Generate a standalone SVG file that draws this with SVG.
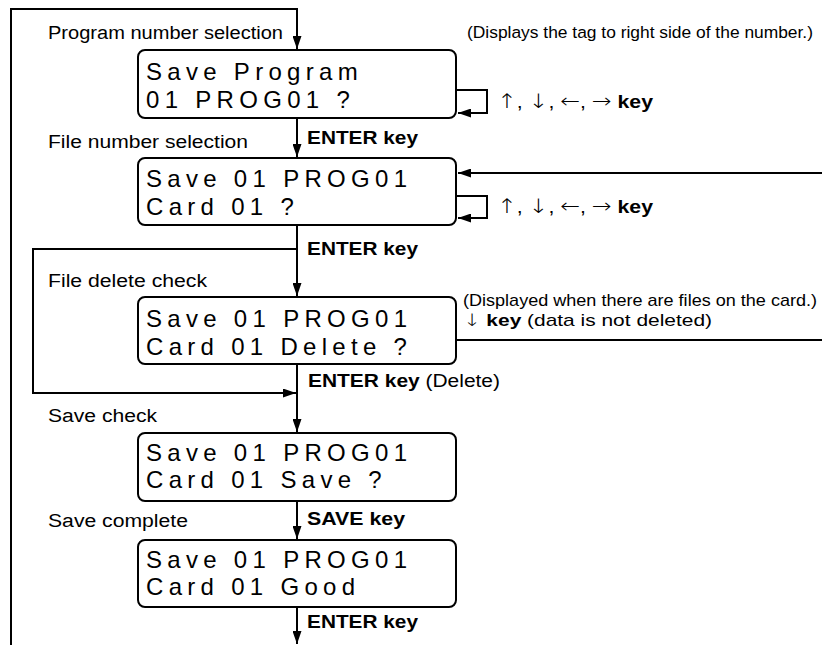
<svg xmlns="http://www.w3.org/2000/svg" width="822" height="645" viewBox="0 0 822 645">
<style>
.bg{fill:#fff}
.box{fill:#fff;stroke:#000;stroke-width:2}
.lcd{font-family:"Liberation Sans",Arial,sans-serif;font-size:24px;letter-spacing:5.3px;fill:#000}
.lbl{font-family:"Liberation Sans",Arial,sans-serif;font-size:18px;fill:#000}
.sm{font-size:17px}
.xs{font-size:17.4px}
.b{font-weight:bold}
.ar{font-family:"DejaVu Sans",sans-serif;font-size:20px;font-weight:200}
.ar2{font-family:"DejaVu Sans",sans-serif;font-size:17px;font-weight:200}
.con{fill:none;stroke:#000;stroke-width:2}
</style>
<defs>
<marker id="ah" markerUnits="userSpaceOnUse" markerWidth="14" markerHeight="9" refX="13" refY="4.5" orient="auto">
<path d="M0,0 L13,4.5 L0,9 z" fill="#000"/>
</marker>
</defs>
<rect class="bg" x="0" y="0" width="822" height="645"/>
<g id="connectors">
<path class="con" d="M11,645 V9 H297 V49" marker-end="url(#ah)"/>
<path class="con" d="M297,118 V157" marker-end="url(#ah)"/>
<path class="con" d="M297,225 V296" marker-end="url(#ah)"/>
<path class="con" d="M297,249 H33 V393 H296" marker-end="url(#ah)"/>
<path class="con" d="M297,364 V432" marker-end="url(#ah)"/>
<path class="con" d="M297,501 V539" marker-end="url(#ah)"/>
<path class="con" d="M297,607 V644" marker-end="url(#ah)"/>
<path class="con" d="M456,90 H487 V113 H458" marker-end="url(#ah)"/>
<path class="con" d="M456,196 H487 V218 H458" marker-end="url(#ah)"/>
<path class="con" d="M822,173 H458" marker-end="url(#ah)"/>
<path class="con" d="M456,340 H822"/>
</g>
<g id="labels">
<text class="lbl" x="48" y="39" textLength="235" lengthAdjust="spacingAndGlyphs">Program number selection</text>
<text class="lbl xs" x="467" y="38" textLength="346" lengthAdjust="spacingAndGlyphs">(Displays the tag to right side of the number.)</text>
<text class="lbl" x="497" y="108" textLength="156" lengthAdjust="spacingAndGlyphs"><tspan class="ar">↑</tspan>, <tspan class="ar">↓</tspan>, <tspan class="ar">←</tspan>, <tspan class="ar">→</tspan> <tspan class="b">key</tspan></text>
<text class="lbl" x="48" y="148" textLength="200" lengthAdjust="spacingAndGlyphs">File number selection</text>
<text class="lbl b" x="307" y="144" textLength="111" lengthAdjust="spacingAndGlyphs">ENTER key</text>
<text class="lbl" x="497" y="213" textLength="156" lengthAdjust="spacingAndGlyphs"><tspan class="ar">↑</tspan>, <tspan class="ar">↓</tspan>, <tspan class="ar">←</tspan>, <tspan class="ar">→</tspan> <tspan class="b">key</tspan></text>
<text class="lbl b" x="307" y="255" textLength="111" lengthAdjust="spacingAndGlyphs">ENTER key</text>
<text class="lbl" x="48" y="287" textLength="159" lengthAdjust="spacingAndGlyphs">File delete check</text>
<text class="lbl sm" x="463" y="306" textLength="354" lengthAdjust="spacingAndGlyphs">(Displayed when there are files on the card.)</text>
<text class="lbl sm" x="463" y="326" textLength="249" lengthAdjust="spacingAndGlyphs"><tspan class="ar2">↓</tspan> <tspan class="b">key</tspan> (data is not deleted)</text>
<text class="lbl" x="308" y="387" textLength="192" lengthAdjust="spacingAndGlyphs"><tspan class="b">ENTER key</tspan> (Delete)</text>
<text class="lbl" x="48" y="422" textLength="109" lengthAdjust="spacingAndGlyphs">Save check</text>
<text class="lbl" x="48" y="527" textLength="140" lengthAdjust="spacingAndGlyphs">Save complete</text>
<text class="lbl b" x="307" y="525" textLength="98" lengthAdjust="spacingAndGlyphs">SAVE key</text>
<text class="lbl b" x="307" y="628" textLength="111" lengthAdjust="spacingAndGlyphs">ENTER key</text>
</g>
<g id="node1">
<rect class="box" x="138" y="50" width="318" height="68" rx="7"/>
<text class="lcd" x="146" y="80">Save Program</text>
<text class="lcd" x="146" y="108">01 PROG01 ?</text>
</g>
<g id="node2">
<rect class="box" x="138" y="158" width="318" height="67" rx="7"/>
<text class="lcd" x="146" y="187">Save 01 PROG01</text>
<text class="lcd" x="146" y="215">Card 01 ?</text>
</g>
<g id="node3">
<rect class="box" x="138" y="297" width="318" height="67" rx="7"/>
<text class="lcd" x="146" y="327">Save 01 PROG01</text>
<text class="lcd" x="146" y="355">Card 01 Delete ?</text>
</g>
<g id="node4">
<rect class="box" x="138" y="433" width="318" height="68" rx="7"/>
<text class="lcd" x="146" y="461">Save 01 PROG01</text>
<text class="lcd" x="146" y="488">Card 01 Save ?</text>
</g>
<g id="node5">
<rect class="box" x="138" y="540" width="318" height="67" rx="7"/>
<text class="lcd" x="146" y="568">Save 01 PROG01</text>
<text class="lcd" x="146" y="595">Card 01 Good</text>
</g>
</svg>
